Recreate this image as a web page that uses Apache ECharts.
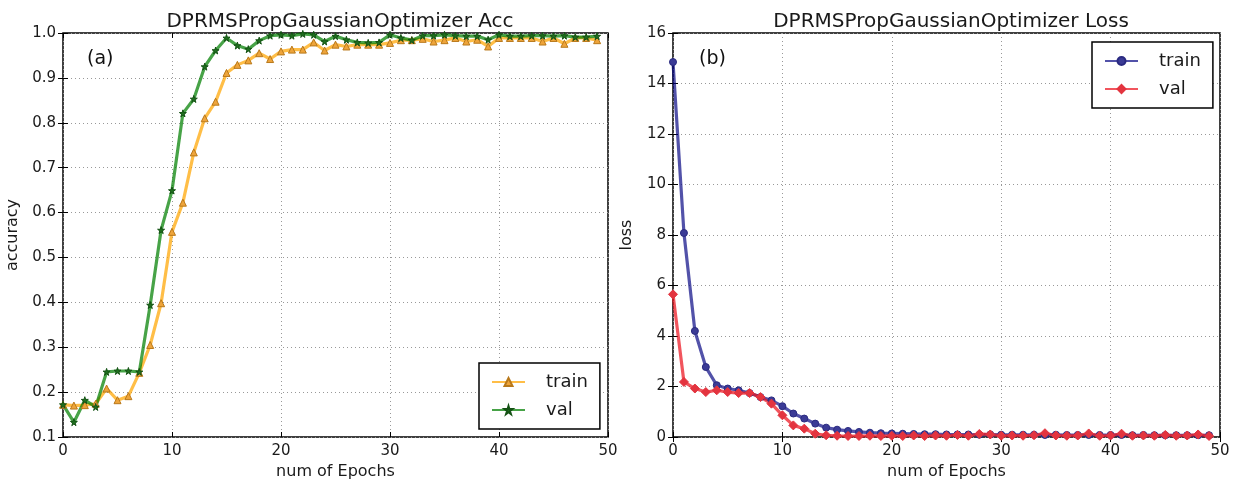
<!DOCTYPE html>
<html>
<head>
<meta charset="utf-8">
<script src="https://cdn.jsdelivr.net/npm/echarts@6/dist/echarts.min.js"></script>
<style>
  html, body { margin: 0; padding: 0; background: #fff; }
  #main { width: 1239px; height: 488px; }
</style>
</head>
<body>
<div id="main"></div>
<script>
// epochs (x axis)
var epochs = [0, 1, 2, 3, 4, 5, 6, 7, 8, 9, 10, 11, 12, 13, 14, 15, 16, 17, 18, 19,
  20, 21, 22, 23, 24, 25, 26, 27, 28, 29, 30, 31, 32, 33, 34, 35, 36, 37, 38, 39,
  40, 41, 42, 43, 44, 45, 46, 47, 48, 49];

// (a) accuracy
var accTrain = [0.172, 0.170, 0.171, 0.174, 0.208, 0.182, 0.191, 0.243, 0.305, 0.398,
  0.557, 0.622, 0.734, 0.810, 0.847, 0.911, 0.929, 0.939, 0.955, 0.942,
  0.959, 0.963, 0.963, 0.979, 0.961, 0.974, 0.970, 0.974, 0.974, 0.974,
  0.978, 0.984, 0.984, 0.987, 0.981, 0.984, 0.989, 0.981, 0.985, 0.970,
  0.989, 0.989, 0.989, 0.989, 0.981, 0.989, 0.976, 0.989, 0.989, 0.984];
var accVal = [0.172, 0.133, 0.182, 0.167, 0.245, 0.247, 0.247, 0.245, 0.394, 0.561,
  0.649, 0.821, 0.853, 0.925, 0.961, 0.989, 0.972, 0.964, 0.983, 0.994,
  0.996, 0.994, 0.998, 0.996, 0.981, 0.993, 0.985, 0.979, 0.978, 0.979,
  0.996, 0.989, 0.984, 0.994, 0.994, 0.996, 0.994, 0.993, 0.993, 0.985,
  0.996, 0.993, 0.993, 0.994, 0.994, 0.993, 0.994, 0.991, 0.991, 0.993];

// (b) loss
var lossTrain = [14.85, 8.08, 4.20, 2.77, 2.05, 1.92, 1.85, 1.74, 1.58, 1.45,
  1.22, 0.93, 0.73, 0.53, 0.37, 0.29, 0.24, 0.20, 0.17, 0.15,
  0.14, 0.13, 0.12, 0.11, 0.11, 0.10, 0.10, 0.10, 0.09, 0.10,
  0.09, 0.09, 0.09, 0.09, 0.08, 0.09, 0.08, 0.08, 0.08, 0.08,
  0.08, 0.08, 0.07, 0.08, 0.07, 0.07, 0.07, 0.07, 0.07, 0.07];
var lossVal = [5.65, 2.18, 1.92, 1.78, 1.85, 1.78, 1.74, 1.74, 1.58, 1.32,
  0.86, 0.46, 0.33, 0.13, 0.07, 0.05, 0.04, 0.04, 0.05, 0.04,
  0.05, 0.04, 0.06, 0.04, 0.06, 0.05, 0.08, 0.05, 0.12, 0.10,
  0.05, 0.06, 0.05, 0.07, 0.15, 0.06, 0.05, 0.06, 0.14, 0.05,
  0.06, 0.13, 0.05, 0.06, 0.05, 0.08, 0.05, 0.06, 0.10, 0.04];

var accTicks = ['0.1', '0.2', '0.3', '0.4', '0.5', '0.6', '0.7', '0.8', '0.9', '1.0'];
var lossTicks = ['0', '2', '4', '6', '8', '10', '12', '14', '16'];

var FONT = 'DejaVu Sans';
var STAR = 'path://M50,0 L61,35 L98,35 L68,57 L79,91 L50,70 L21,91 L32,57 L2,35 L39,35 Z';

function pairs(ys) {
  return epochs.map(function (e, i) { return [e, ys[i]]; });
}

// 主坐标轴 + 顶部/右侧只画刻度的副轴
function xAxes(gi) {
  return [{
    type: 'value', gridIndex: gi, min: 0, max: 50, interval: 10,
    name: 'num of Epochs', nameLocation: 'middle', nameGap: 27,
    nameTextStyle: { fontFamily: FONT, fontSize: 16, color: '#1a1a1a' },
    axisLine: { show: false },
    axisTick: { inside: true, length: 5, lineStyle: { color: '#000' } },
    axisLabel: { fontFamily: FONT, fontSize: 15, color: '#1a1a1a', margin: 7 },
    splitLine: { show: true, lineStyle: { color: '#999', type: [1, 3] } }
  }, {
    type: 'value', gridIndex: gi, position: 'top', min: 0, max: 50, interval: 10,
    axisLine: { show: false },
    axisTick: { inside: true, length: 5, lineStyle: { color: '#000' } },
    axisLabel: { show: false }, splitLine: { show: false }
  }];
}

function yAxes(gi, min, max, interval, name, gap, fmt) {
  return [{
    type: 'value', gridIndex: gi, min: min, max: max, interval: interval,
    name: name, nameLocation: 'middle', nameGap: gap,
    nameTextStyle: { fontFamily: FONT, fontSize: 16, color: '#1a1a1a' },
    axisLine: { show: false },
    axisTick: { inside: true, length: 5, lineStyle: { color: '#000' } },
    axisLabel: { fontFamily: FONT, fontSize: 15, color: '#1a1a1a', margin: 7, formatter: fmt },
    splitLine: { show: true, lineStyle: { color: '#999', type: [1, 3] } }
  }, {
    type: 'value', gridIndex: gi, position: 'right', min: min, max: max, interval: interval,
    axisLine: { show: false },
    axisTick: { inside: true, length: 5, lineStyle: { color: '#000' } },
    axisLabel: { show: false }, splitLine: { show: false }
  }];
}

function lineSeries(name, xi, yi, ys, color, symbol, size, mColor, mBorder) {
  return {
    name: name, type: 'line', xAxisIndex: xi, yAxisIndex: yi,
    data: pairs(ys), symbol: symbol, symbolSize: size, showSymbol: true,
    lineStyle: { color: color, width: 3.2 },
    itemStyle: { color: mColor, borderColor: mBorder, borderWidth: 1 },
    emphasis: { disabled: true }, animation: false
  };
}

var legendBox = {
  orient: 'vertical', backgroundColor: '#fff', borderColor: '#000', borderWidth: 1.5,
  borderRadius: 0, padding: [10, 12], itemGap: 10, itemWidth: 33, itemHeight: 10,
  textStyle: { fontFamily: FONT, fontSize: 18, color: '#1a1a1a', padding: [0, 0, 0, 16] },
  formatter: function (n) { return n.split('_')[1]; }
};

var chart = echarts.init(document.getElementById('main'));
var option = {
  backgroundColor: '#fff',
  title: [
    { text: 'DPRMSPropGaussianOptimizer Acc', left: 335, top: 7, textAlign: 'center',
      textStyle: { fontFamily: FONT, fontSize: 20, fontWeight: 'normal', color: '#1a1a1a' } },
    { text: 'DPRMSPropGaussianOptimizer Loss', left: 946, top: 7, textAlign: 'center',
      textStyle: { fontFamily: FONT, fontSize: 20, fontWeight: 'normal', color: '#1a1a1a' } },
    { text: '(a)', left: 82, top: 45,
      textStyle: { fontFamily: FONT, fontSize: 19, fontWeight: 'normal', color: '#111' } },
    { text: '(b)', left: 694, top: 45,
      textStyle: { fontFamily: FONT, fontSize: 19, fontWeight: 'normal', color: '#111' } }
  ],
  grid: [
    { left: 63, top: 33, width: 545, height: 404, show: true,
      borderColor: '#000', borderWidth: 1.5, backgroundColor: '#fff' },
    { left: 673, top: 33, width: 547, height: 404, show: true,
      borderColor: '#000', borderWidth: 1.5, backgroundColor: '#fff' }
  ],
  xAxis: xAxes(0).concat(xAxes(1)),
  yAxis: yAxes(0, 0.1, 1.0, 0.1, 'accuracy', 42, function (v) {
      return accTicks[Math.round(v * 10) - 1];
    }).concat(yAxes(1, 0, 16, 2, 'loss', 38, function (v) {
      return lossTicks[Math.round(v / 2)];
    })),
  legend: [
    Object.assign({ left: 479, top: 363, data: ['acc_train', 'acc_val'] }, legendBox),
    Object.assign({ left: 1092, top: 42, data: ['loss_train', 'loss_val'] }, legendBox)
  ],
  series: [
    lineSeries('acc_train', 0, 0, accTrain, 'rgba(255,165,0,0.72)', 'triangle', 7, '#eea43a', '#b8781a'),
    lineSeries('acc_val', 0, 0, accVal, 'rgba(0,128,0,0.72)', STAR, 7, '#1f6f1f', '#145214'),
    lineSeries('loss_train', 2, 2, lossTrain, 'rgba(0,0,128,0.68)', 'circle', 7, '#3b3b96', '#2a2a80'),
    lineSeries('loss_val', 2, 2, lossVal, 'rgba(235,20,30,0.72)', 'diamond', 9, '#e3343f', '#e3343f')
  ]
};
chart.setOption(option);
window.addEventListener('resize', function () { chart.resize(); });
</script>
</body>
</html>
